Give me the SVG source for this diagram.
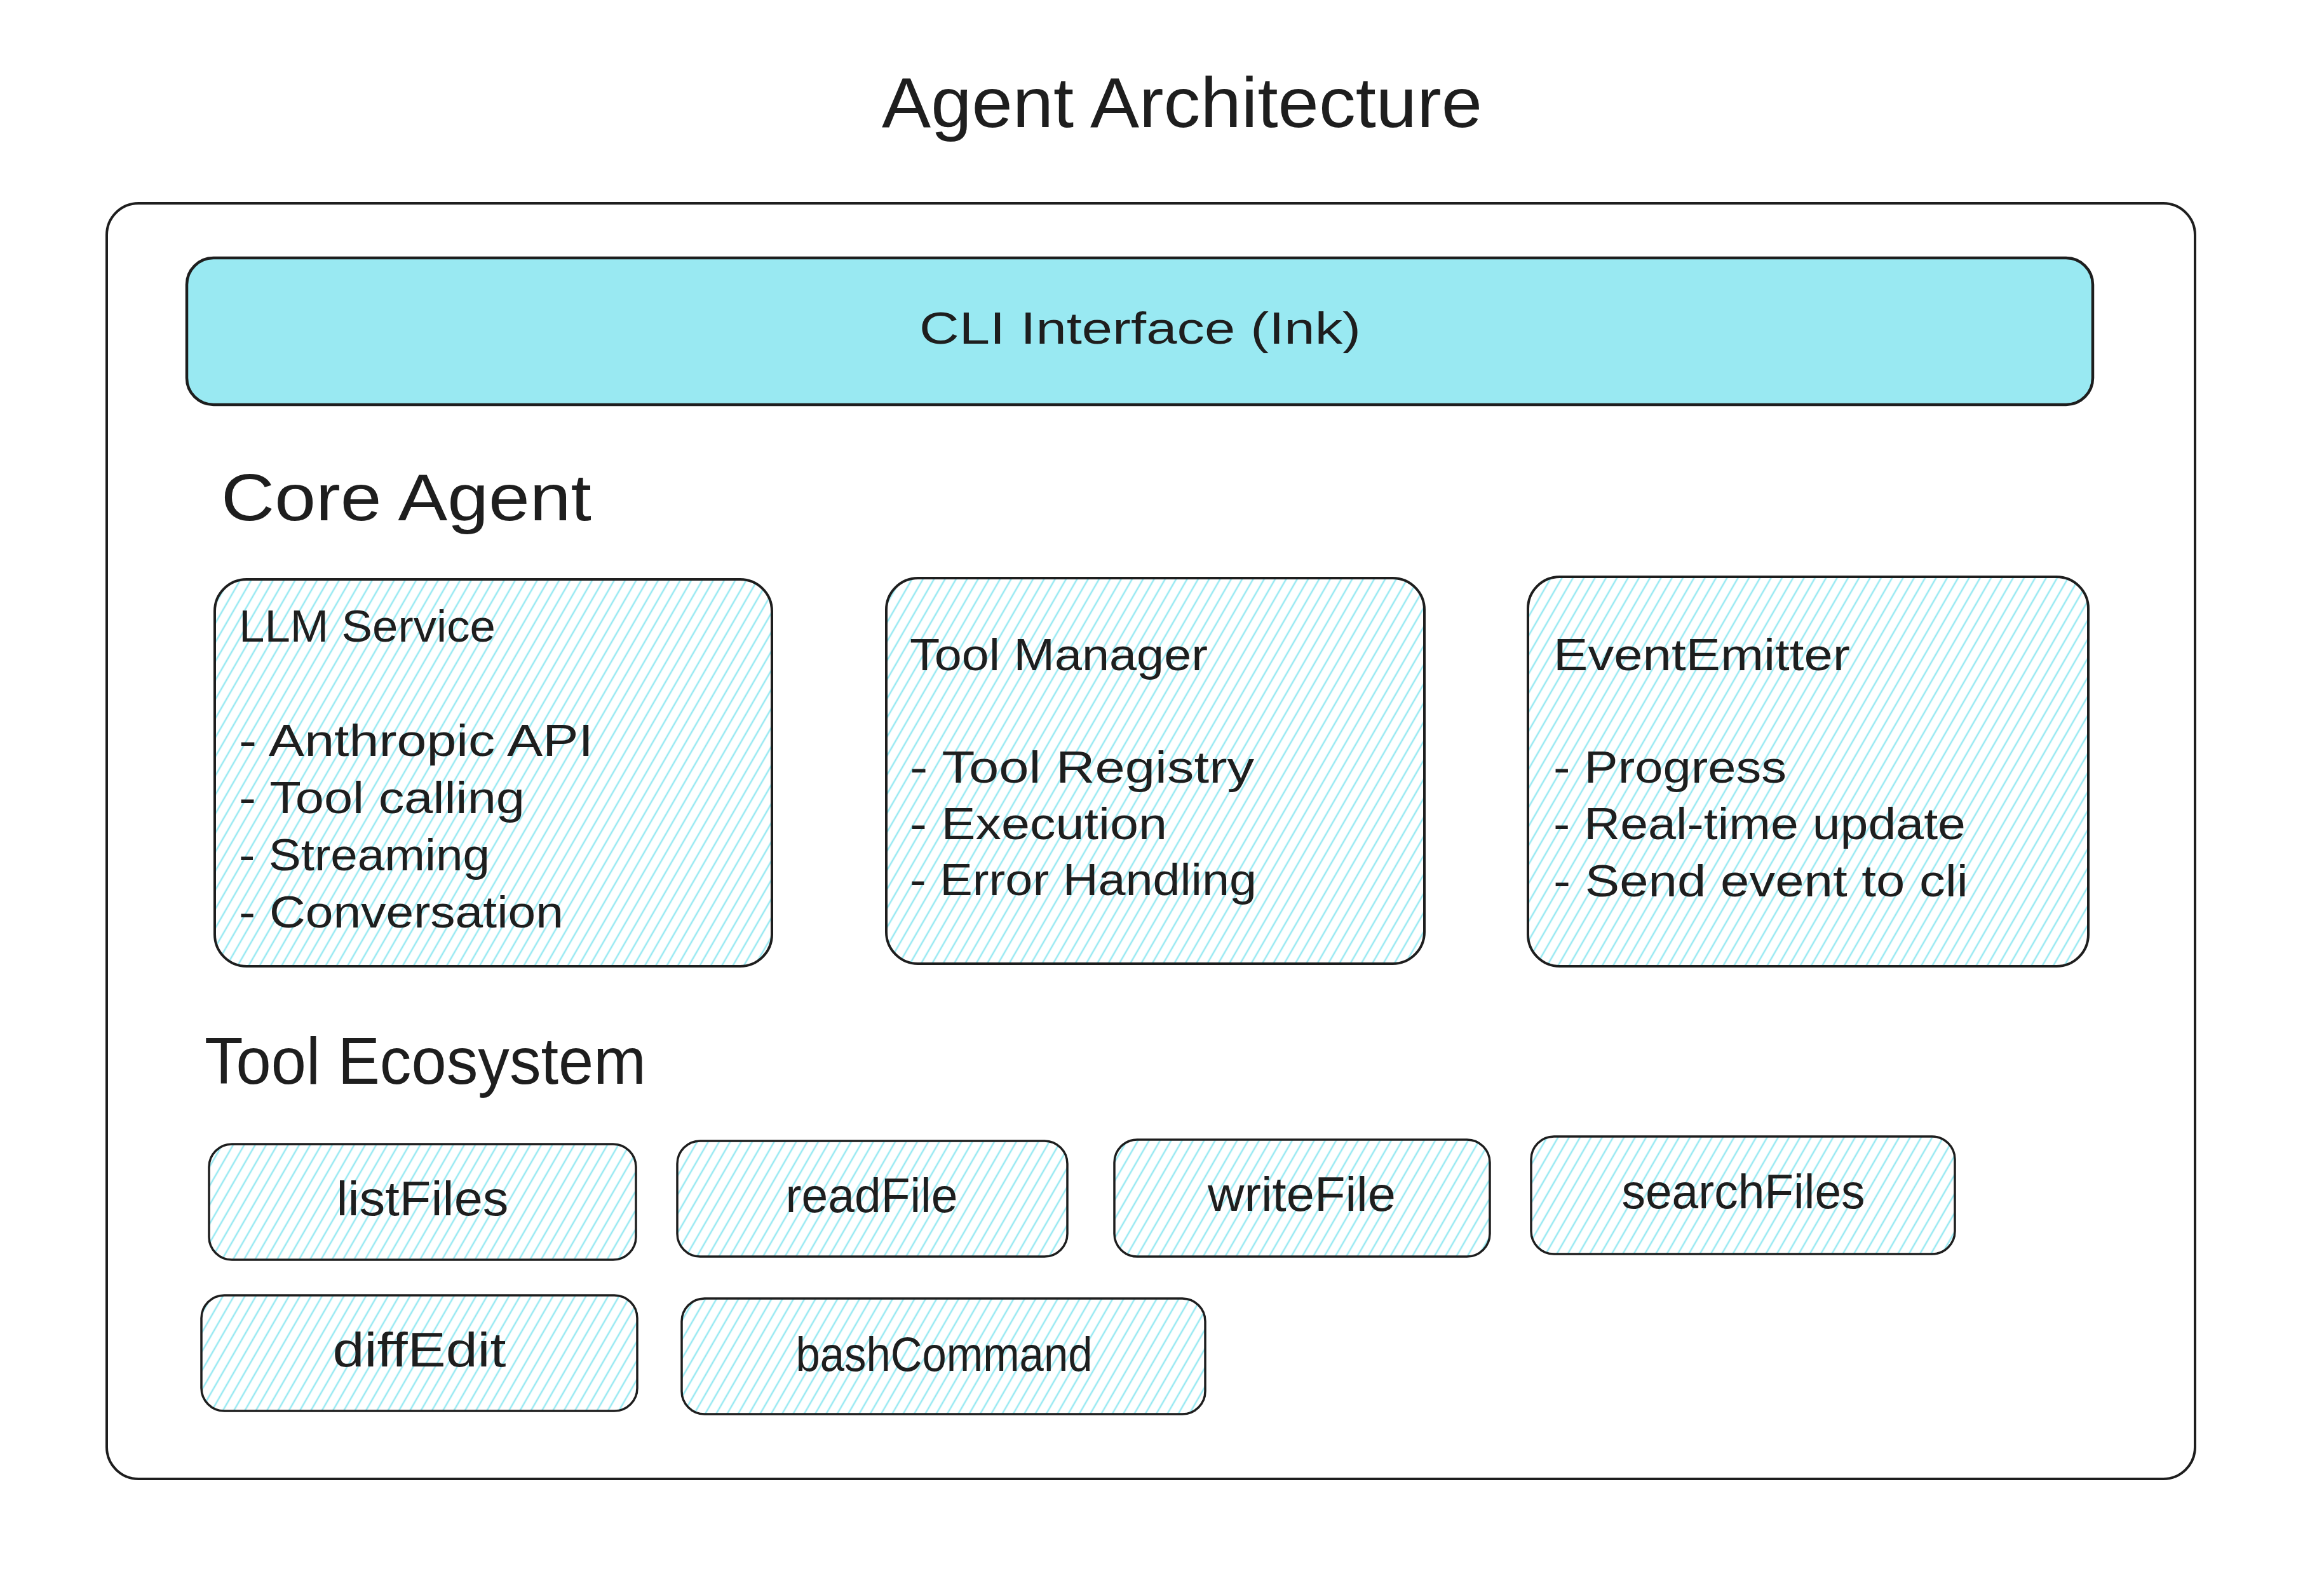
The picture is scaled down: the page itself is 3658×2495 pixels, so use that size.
<svg xmlns="http://www.w3.org/2000/svg" width="3658" height="2495" viewBox="0 0 3658 2495">
<defs>
<pattern id="hatch" width="15" height="15" patternUnits="userSpaceOnUse" patternTransform="rotate(30)">
<line x1="4" y1="0" x2="4" y2="15" stroke="#99e9f2" stroke-width="2.6"/>
</pattern>
</defs>
<style>
.frame{fill:#ffffff;stroke:#1e1e1e;stroke-width:4}
.bar{fill:#99e9f2;stroke:#1e1e1e;stroke-width:4.5}
.box{fill:url(#hatch);stroke:#1e1e1e;stroke-width:4}
.tool{fill:url(#hatch);stroke:#1e1e1e;stroke-width:3.5}
text{font-family:"Liberation Sans",Arial,sans-serif;fill:#1e1e1e}
.title{font-size:112px}
.head{font-size:104px}
.body{font-size:70px}
.lbl{font-size:76px;text-anchor:middle}
</style>
<rect width="3658" height="2495" fill="#ffffff"/>
<text class="title" x="1388" y="200" textLength="945" lengthAdjust="spacingAndGlyphs">Agent Architecture</text>
<g id="frame"><rect class="frame" x="168" y="320" width="3287" height="2008" rx="50"/></g>
<g id="cli"><rect class="bar" x="294" y="406" width="3000" height="231" rx="42"/>
<text class="body" x="1447" y="541" textLength="695" lengthAdjust="spacingAndGlyphs">CLI Interface (Ink)</text></g>
<text class="head" x="348" y="819" textLength="583" lengthAdjust="spacingAndGlyphs">Core Agent</text>
<g id="llm"><rect class="box" x="338" y="912" width="877" height="609" rx="50"/>
<text class="body" x="376" y="1010" textLength="404" lengthAdjust="spacingAndGlyphs">LLM Service</text>
<text class="body" x="376" y="1190" textLength="558" lengthAdjust="spacingAndGlyphs">- Anthropic API</text>
<text class="body" x="376" y="1280" textLength="450" lengthAdjust="spacingAndGlyphs">- Tool calling</text>
<text class="body" x="376" y="1370" textLength="395" lengthAdjust="spacingAndGlyphs">- Streaming</text>
<text class="body" x="376" y="1460" textLength="511" lengthAdjust="spacingAndGlyphs">- Conversation</text></g>
<g id="toolmanager"><rect class="box" x="1395" y="910" width="847" height="607" rx="50"/>
<text class="body" x="1432" y="1055" textLength="469" lengthAdjust="spacingAndGlyphs">Tool Manager</text>
<text class="body" x="1432" y="1232" textLength="542" lengthAdjust="spacingAndGlyphs">- Tool Registry</text>
<text class="body" x="1432" y="1321" textLength="405" lengthAdjust="spacingAndGlyphs">- Execution</text>
<text class="body" x="1432" y="1409" textLength="546" lengthAdjust="spacingAndGlyphs">- Error Handling</text></g>
<g id="eventemitter"><rect class="box" x="2405" y="908" width="882" height="613" rx="50"/>
<text class="body" x="2445" y="1055" textLength="467" lengthAdjust="spacingAndGlyphs">EventEmitter</text>
<text class="body" x="2445" y="1232" textLength="367" lengthAdjust="spacingAndGlyphs">- Progress</text>
<text class="body" x="2445" y="1321" textLength="649" lengthAdjust="spacingAndGlyphs">- Real-time update</text>
<text class="body" x="2445" y="1411" textLength="653" lengthAdjust="spacingAndGlyphs">- Send event to cli</text></g>
<text class="head" x="322" y="1706" textLength="695" lengthAdjust="spacingAndGlyphs">Tool Ecosystem</text>
<g id="listFiles"><rect class="tool" x="329" y="1801" width="672" height="182" rx="36"/>
<text class="lbl" x="665" y="1913" textLength="271" lengthAdjust="spacingAndGlyphs">listFiles</text></g>
<g id="readFile"><rect class="tool" x="1066" y="1796" width="614" height="182" rx="36"/>
<text class="lbl" x="1372" y="1908" textLength="271" lengthAdjust="spacingAndGlyphs">readFile</text></g>
<g id="writeFile"><rect class="tool" x="1754" y="1794" width="591" height="184" rx="36"/>
<text class="lbl" x="2049" y="1906" textLength="296" lengthAdjust="spacingAndGlyphs">writeFile</text></g>
<g id="searchFiles"><rect class="tool" x="2410" y="1789" width="667" height="185" rx="36"/>
<text class="lbl" x="2744" y="1902" textLength="383" lengthAdjust="spacingAndGlyphs">searchFiles</text></g>
<g id="diffEdit"><rect class="tool" x="317" y="2039" width="686" height="182" rx="36"/>
<text class="lbl" x="660" y="2151" textLength="273" lengthAdjust="spacingAndGlyphs">diffEdit</text></g>
<g id="bashCommand"><rect class="tool" x="1073" y="2044" width="824" height="182" rx="36"/>
<text class="lbl" x="1486" y="2158" textLength="467" lengthAdjust="spacingAndGlyphs">bashCommand</text></g>
<g id="connectors"></g>
</svg>
